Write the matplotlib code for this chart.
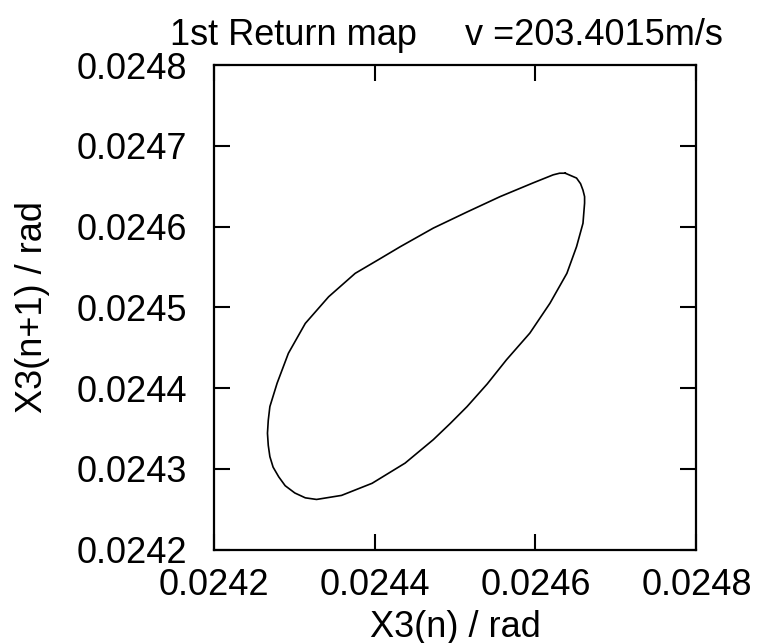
import matplotlib
matplotlib.use("Agg")
import matplotlib.pyplot as plt

plt.rcParams["font.family"] = ["Liberation Sans", "DejaVu Sans"]

# closed return-map curve (clockwise from the top tip)
x3_n = [0.024637, 0.024644, 0.024651, 0.024656, 0.024659, 0.024661, 0.024661,
        0.024659, 0.024651, 0.024639, 0.024618, 0.024593, 0.024564, 0.024540,
        0.024515, 0.024494, 0.024473, 0.024438, 0.024397, 0.024359, 0.024328,
        0.024314, 0.024301, 0.024289, 0.024281, 0.024274, 0.024270, 0.024268,
        0.024267, 0.024268, 0.024270, 0.024279, 0.024293, 0.024314, 0.024343,
        0.024376, 0.024405, 0.024432, 0.024473, 0.024515, 0.024556, 0.024597,
        0.024622, 0.024630, 0.024637]
x3_n1 = [0.024666, 0.024663, 0.024660, 0.024653, 0.024645, 0.024637, 0.024629,
         0.024604, 0.024575, 0.024542, 0.024505, 0.024468, 0.024435, 0.024405,
         0.024377, 0.024356, 0.024336, 0.024307, 0.024282, 0.024267, 0.024262,
         0.024264, 0.024270, 0.024279, 0.024290, 0.024302, 0.024315, 0.024329,
         0.024344, 0.024360, 0.024377, 0.024406, 0.024443, 0.024480, 0.024513,
         0.024542, 0.024559, 0.024575, 0.024598, 0.024618, 0.024637, 0.024654,
         0.024664, 0.024666, 0.024666]

x_ticks = [0.0242, 0.0244, 0.0246, 0.0248]
x_labels = ["0.0242", "0.0244", "0.0246", "0.0248"]
y_ticks = [0.0242, 0.0243, 0.0244, 0.0245, 0.0246, 0.0247, 0.0248]
y_labels = ["0.0242", "0.0243", "0.0244", "0.0245", "0.0246", "0.0247", "0.0248"]

fig = plt.figure(figsize=(7.61, 6.43), dpi=100)
ax = fig.add_axes([0.2806, 0.1454, 0.6346, 0.7535])

ax.plot(x3_n, x3_n1, color="black", linewidth=1.2, solid_joinstyle="round")

ax.set_xlim(0.0242, 0.0248)
ax.set_ylim(0.0242, 0.0248)
ax.set_xticks(x_ticks)
ax.set_xticklabels(x_labels)
ax.set_yticks(y_ticks)
ax.set_yticklabels(y_labels)

ax.tick_params(direction="in", length=11.5, width=1.5, labelsize=26,
               top=True, right=True)
ax.tick_params(axis="x", pad=13)
ax.tick_params(axis="y", pad=19)
for s in ax.spines.values():
    s.set_linewidth(1.6)

ax.set_xlabel("X3(n) / rad", fontsize=26, labelpad=5)
ax.set_ylabel("X3(n+1) / rad", fontsize=26, labelpad=19)

fig.text(170 / 761, 1 - 45 / 643, "1st Return map", fontsize=26,
         ha="left", va="baseline")
fig.text(465 / 761, 1 - 45 / 643, "v =203.4015m/s", fontsize=26,
         ha="left", va="baseline")

fig.savefig("out.png", dpi=100)
